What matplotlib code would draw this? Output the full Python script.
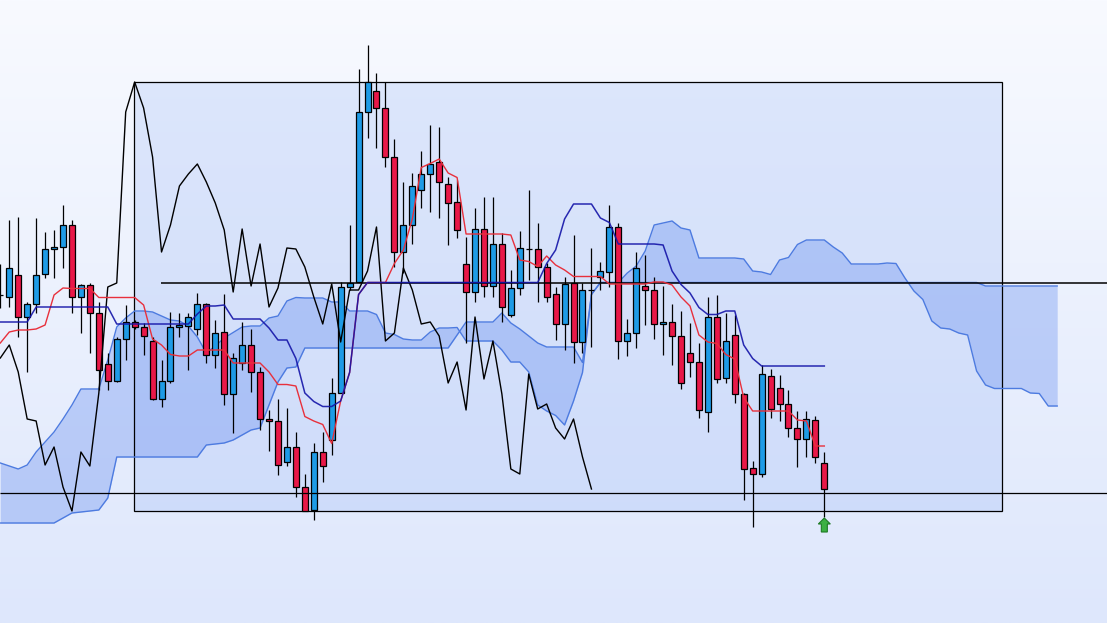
import numpy as np
import matplotlib
matplotlib.use("Agg")
import matplotlib.pyplot as plt
from matplotlib.patches import Rectangle, FancyArrow

# daily candles, price in points
opens = [328, 326, 348, 306, 319, 349, 374, 376, 398, 326,
         338, 310, 259, 242, 284, 301, 296, 282, 224, 242,
         296, 297, 294, 319, 268, 291, 229, 260, 278, 251,
         204, 202, 161, 176, 136, 113, 171, 183, 230, 336,
         341, 511, 532, 515, 466, 371, 398, 433, 449, 461,
         439, 421, 359, 331, 394, 337, 379, 308, 335, 374,
         374, 356, 329, 299, 340, 281, 333, 346, 351, 396,
         282, 290, 337, 333, 299, 301, 287, 270, 261, 211,
         306, 245, 288, 229, 155, 149, 247, 235, 219, 195,
         184, 203, 160]
highs = [359, 403, 406, 321, 405, 391, 393, 418, 403, 339,
         340, 321, 270, 286, 318, 303, 300, 286, 263, 311,
         310, 310, 330, 320, 303, 329, 270, 301, 294, 256,
         213, 224, 215, 191, 149, 180, 191, 245, 341, 398,
         554, 578, 550, 541, 484, 441, 450, 472, 498, 496,
         446, 443, 386, 415, 426, 426, 390, 353, 392, 433,
         400, 360, 336, 346, 388, 340, 375, 361, 418, 400,
         304, 371, 368, 346, 337, 319, 312, 300, 280, 326,
         328, 310, 308, 230, 162, 258, 254, 248, 233, 212,
         212, 207, 171]
lows = [315, 316, 286, 251, 310, 345, 345, 355, 310, 290,
        270, 233, 233, 241, 263, 294, 268, 223, 216, 240,
        286, 253, 288, 260, 255, 218, 190, 253, 231, 193,
        172, 148, 157, 126, 112, 103, 141, 168, 230, 333,
        341, 485, 475, 456, 356, 350, 379, 415, 411, 405,
        378, 385, 280, 321, 326, 326, 301, 306, 328, 343,
        321, 321, 283, 273, 260, 270, 276, 333, 336, 264,
        267, 275, 298, 284, 268, 258, 234, 246, 205, 191,
        240, 240, 220, 123, 96, 146, 205, 202, 186, 156,
        166, 160, 106]
closes = [328, 355, 306, 319, 348, 374, 376, 398, 326, 338,
          310, 253, 242, 284, 301, 296, 287, 224, 242, 296,
          298, 306, 319, 268, 290, 229, 265, 278, 251, 204,
          202, 158, 176, 136, 112, 171, 157, 230, 336, 340,
          511, 541, 515, 466, 371, 398, 437, 449, 459, 441,
          420, 393, 331, 394, 337, 379, 316, 335, 375, 374,
          356, 326, 299, 339, 281, 333, 333, 352, 396, 282,
          290, 355, 333, 299, 301, 287, 240, 261, 213, 306,
          244, 282, 229, 154, 149, 249, 214, 219, 195, 184,
          204, 166, 134]

# ichimoku lines as shown
tenkan = [280, 291, 293, 293, 294, 298, 328, 335, 334.5, 334.5,
          334.5, 325.5, 325.5, 325.5, 325.5, 325.5, 318, 284, 278, 268.5,
          267, 267, 273, 273, 273, 273, 260, 260, 260, 260,
          251, 238.5, 238.5, 237, 206.5, 202, 198.5, 179.5, 222, 250.5,
          328.5, 340.5, 340.5, 340.5, 359.5, 373, 404, 455.5, 459.5, 464,
          450, 445.5, 389, 389, 389, 389, 389, 388, 363, 361.5,
          356.5, 367, 358, 353, 346.5, 346.5, 346.5, 346.5, 339, 339,
          339, 339, 339, 341, 341, 338, 326, 317, 288, 281,
          279.5, 268.5, 264, 225.5, 212, 212, 212, 212, 212, 203,
          202, 177, 177]
kijun = [301, 301, 301, 301, 316, 316, 316, 316, 316, 316,
         316, 316, 316, 299, 299, 299, 299, 299, 299, 299,
         299, 299, 309, 317, 317, 318, 304, 304, 304, 304,
         295, 283, 283, 264.5, 230, 221.5, 216.5, 216.5, 222, 250.5,
         328.5, 340.5, 340.5, 340.5, 340.5, 340.5, 340.5, 340.5, 340.5, 340.5,
         340.5, 340.5, 340.5, 340.5, 340.5, 340.5, 340.5, 340.5, 340.5, 340.5,
         340.5, 359.5, 373, 404, 419, 419, 419, 405, 400.5, 379,
         379, 379, 379, 379, 378, 352, 338.5, 330, 315.5, 308.5,
         308.5, 312, 312, 278, 264.5, 257, 257, 257, 257, 257,
         257, 257, 257]
span_a = [160, 157, 154, 158, 171, 181, 191, 204, 218, 234,
          234, 234, 263, 296, 305, 312, 312, 311, 307, 303,
          302, 297, 286, 270, 277, 285, 290.5, 296, 297, 297,
          305, 307, 322, 325.5, 325, 325, 325, 321, 321, 312,
          312, 312, 308.5, 290, 288.5, 284, 283, 283, 291, 295,
          295, 295.5, 282, 282, 282, 282, 273, 261, 261, 251,
          218, 212, 207.5, 198, 222, 250.5, 328.5, 340.5, 340.5, 340.5,
          350, 357, 372, 398, 400, 402, 395, 393, 365, 365,
          365, 365, 365, 364, 352, 351, 348.5, 363, 365.5, 378.5,
          383, 383, 383, 376, 370, 359, 359, 359, 359, 360,
          359.5, 345, 332, 323.5, 302, 295, 294, 290, 288, 252,
          238, 234.5, 234.5, 234.5, 234.5, 230, 229.5, 217, 217]
span_b = [100, 100, 100, 100, 100, 100, 100, 105, 110, 111,
          112, 113, 125, 166, 166, 166, 166, 166, 166, 166,
          166, 166, 166, 178, 179, 180, 183, 188, 193, 195,
          218, 241, 255, 256, 275, 275, 275, 275, 275, 275,
          275, 275, 275, 275, 275, 275, 275, 275, 275, 275,
          275, 288, 301, 301, 301, 301, 310, 300, 294, 287,
          280, 276, 276, 276, 276, 260.5, 328.5, 340.5, 340.5, 340.5,
          340.5, 340.5, 340.5, 340.5, 340.5, 340.5, 340.5, 340.5, 340.5, 340.5,
          340.5, 340.5, 340.5, 340.5, 340.5, 340.5, 340.5, 340.5, 340.5, 340.5,
          340.5, 340.5, 340.5, 340.5, 340.5, 340.5, 340.5, 340.5, 340.5, 340.5,
          340.5, 340.5, 340.5, 340.5, 340.5, 340.5, 340.5, 340.5, 340.5, 340.5,
          337, 337, 337, 337, 337, 337, 337, 337, 337]
shift = 26

# range box and levels
box_start, box_end = 14.93, 111.85
box_low, box_high = 112, 541
level_upper, level_upper_start = 340, 17.95
level_lower = 130

UP = '#1e9be6'
DOWN = '#e81848'

fig = plt.figure(figsize=(11.07, 6.23), dpi=100)
bg = fig.add_axes([0, 0, 1, 1])
bg.axis('off')
top_col = np.array([248, 250, 255]) / 255
bot_col = np.array([222, 231, 252]) / 255
t = np.linspace(0, 1, 256)[:, None]
grad = top_col * (1 - t) + bot_col * t
bg.imshow(grad[:, None, :].repeat(2, axis=1), aspect='auto', extent=[0, 1, 0, 1])

ax = fig.add_axes([0, 0, 1, 1])
ax.patch.set_alpha(0)
ax.axis('off')
xmin, xmax = -0.034, 123.56
ax.set_xlim(xmin, xmax)
ax.set_ylim(0, 623)

o = np.array(opens, float)
h = np.array(highs, float)
l = np.array(lows, float)
c = np.array(closes, float)
x = np.arange(len(c))

ax.add_patch(Rectangle((box_start, box_low), box_end - box_start, box_high - box_low,
                       facecolor='#96b4f5', alpha=0.25, edgecolor='none', zorder=1))
ax.add_patch(Rectangle((box_start, box_low), box_end - box_start, box_high - box_low,
                       fill=False, edgecolor='black', lw=0.9, zorder=3))

xc = np.arange(len(span_a))
ax.fill_between(xc, span_a, span_b, color='#648cf0', alpha=0.35, lw=0, zorder=2)
ax.plot(xc, span_a, color='#4d7be0', lw=1, zorder=3)
ax.plot(xc, span_b, color='#4d7be0', lw=1, zorder=3)

ax.hlines(level_upper, level_upper_start, xmax, color='black', lw=1.1, zorder=5.5)
ax.hlines(level_lower, xmin, xmax, color='black', lw=0.9, zorder=5.5)

ax.vlines(x, l, h, color='black', lw=0.9, zorder=4)
colors = [UP if cc >= oo else DOWN for oo, cc in zip(o, c)]
ax.bar(x, c - o, bottom=o, width=0.67, color=colors, edgecolor='black', lw=0.9, zorder=5)

ax.plot(np.arange(len(c) - shift), c[shift:], color='black', lw=1, zorder=6)
ax.plot(x, tenkan, color='#e8303c', lw=1, zorder=6)
ax.plot(x, kijun, color='#1414a8', lw=1.1, alpha=0.9, zorder=6)

ax.add_patch(FancyArrow(x[-1], l[-1] - 15, 0, 14, width=0.67, head_width=1.34,
                        head_length=6, length_includes_head=True,
                        facecolor='#3cb043', edgecolor='#1d7a24', lw=0.8, zorder=8))

fig.savefig('out.png', dpi=100)
